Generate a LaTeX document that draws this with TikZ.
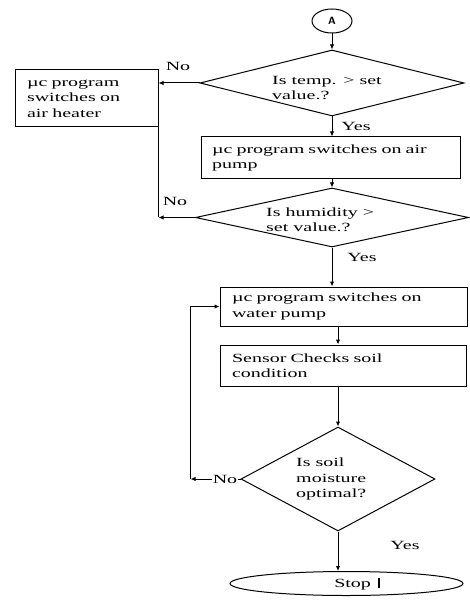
\documentclass[tikz,border=0pt]{standalone}
\usepackage{fontspec}
\setmainfont{Liberation Serif}[FakeStretch=1.6]
\usetikzlibrary{shapes.geometric,arrows.meta}
\begin{document}
\begin{tikzpicture}[x=1pt,y=-1pt,
  every node/.style={font=\fontsize{12.5}{15.5}\selectfont},
  flowbox/.style={draw, rectangle, align=left, inner ysep=0pt, line width=1pt},
  dec/.style={draw, diamond, inner sep=0pt, line width=1pt},
  lbl/.style={inner sep=0pt},
  arr/.style={-{Latex[length=5pt,width=4.5pt]}, line width=1pt},
  ln/.style={line width=1pt}]
\fill[white] (0,0) rectangle (469,601);
\useasboundingbox (0,0) rectangle (469,601);

% nodes
\node[draw, ellipse, minimum width=40pt, minimum height=24pt, inner sep=0pt, line width=1pt, font=\fontsize{10.5}{10.5}\sffamily\bfseries] (A) at (332,21) {A};
\node[dec, minimum width=264pt, minimum height=66pt] (d1) at (332,83) {};
\node[lbl, anchor=west, align=left] (t1) at (272,88) {Is temp. > set\\value.?};
\node[flowbox, text width=119pt, inner xsep=12pt, minimum height=57pt] (h) at (86.5,98.5) {µc program\\switches on\\air heater};
\node[flowbox, text width=237pt, inner xsep=11pt, minimum height=42pt] (b2) at (330.5,158) {µc program switches on air\\pump};
\node[dec, minimum width=273pt, minimum height=59pt] (d2) at (332,217.5) {};
\node[lbl, anchor=west, align=left] (t2) at (266,220) {Is humidity >\\set value.?};
\node[flowbox, text width=223pt, inner xsep=12pt, minimum height=39pt] (b3) at (343.5,306.5) {µc program switches on\\water pump};
\node[flowbox, text width=222pt, inner xsep=12pt, minimum height=41pt] (b4) at (343,365.5) {Sensor Checks soil\\condition};
\node[dec, minimum width=194pt, minimum height=104pt] (d3) at (338,479) {};
\node[lbl, anchor=west, align=left] (t3) at (296,479) {Is soil\\moisture\\optimal?};
\node[draw, ellipse, minimum width=233pt, minimum height=24pt, inner sep=0pt, line width=1pt] (stop) at (346.5,583.5) {};
\node[lbl] (ts) at (357,584) {Stop\hspace{7pt}\rule[-1pt]{1.8pt}{10pt}};

% labels
\node[lbl] (no1) at (178,66) {No};
\node[lbl] (yes1) at (356,126) {Yes};
\node[lbl] (no2) at (175,201) {No};
\node[lbl] (yes2) at (362,257) {Yes};
\node[lbl] (yes3) at (405,545) {Yes};

% connectors
\draw[arr] (A) -- (d1);
\draw[arr] (d1.west) -- (d1.west -| h.east);
\draw[arr] (d1.south) -- (d1.south |- b2.north);
\draw[arr] (d1.south |- b2.south) -- (d2.north);
\coordinate (j2) at (d2.west -| h.east);
\draw[arr] (d2.west) -- (j2);
\draw[ln] (j2) -- (h.south east);
\draw[arr] (d2.south) -- (d2.south |- b3.north);
\draw[arr] (b3.south -| d3.north) -- (b4.north -| d3.north);
\draw[arr] (b4.south -| d3.north) -- (d3.north);
\coordinate (j3) at ([xshift=-50pt]d3.west);
\draw[arr] (d3.west) -- (j3);
\draw[arr] (j3) |- (b3.west);
\draw[arr] (d3.south) -- (d3.south |- stop.north);

\node[lbl, fill=white, inner sep=1pt] (no3) at (225,479) {No};
\end{tikzpicture}
\end{document}
